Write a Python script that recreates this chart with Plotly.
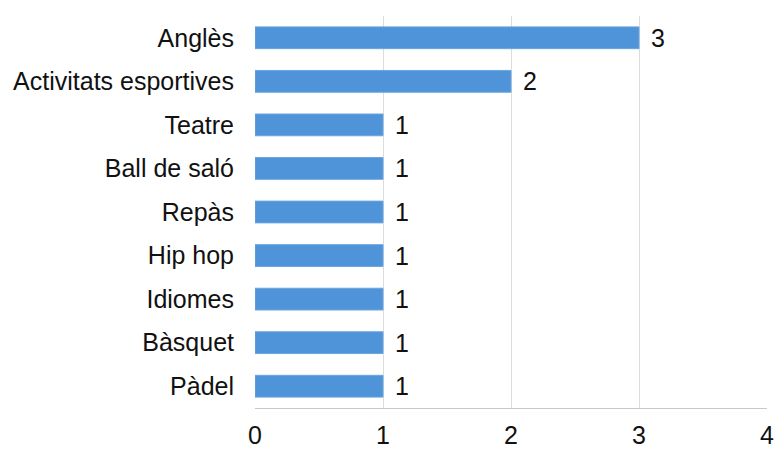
import plotly.graph_objects as go

categories = ["Anglès", "Activitats esportives", "Teatre", "Ball de saló", "Repàs",
              "Hip hop", "Idiomes", "Bàsquet", "Pàdel"]
values = [3, 2, 1, 1, 1, 1, 1, 1, 1]
x_ticks = [0, 1, 2, 3, 4]

FONT = "Liberation Sans, Arial"
FS = 25

fig = go.Figure(go.Bar(
    y=categories, x=values, orientation="h",
    marker=dict(color="#4f93d8", line=dict(color="#6aa6e0", width=1)),
    width=0.5,
))

for c, v in zip(categories, values):
    fig.add_annotation(x=v, y=c, text=str(v), showarrow=False, xanchor="left",
                       yanchor="middle", xshift=10,
                       font=dict(size=FS, color="#111111", family=FONT))

fig.update_layout(
    width=774, height=449,
    margin=dict(l=255, r=7, t=16, b=41),
    plot_bgcolor="white", paper_bgcolor="white",
    font=dict(family=FONT, size=FS, color="#111111"),
    showlegend=False,
)
fig.update_xaxes(range=[0, 4], tickvals=x_ticks, showgrid=True, gridcolor="#dcdcdc",
                 gridwidth=1, zeroline=False, showline=True, linecolor="#c8c8c8",
                 ticks="", ticklabelstandoff=5, tickfont=dict(size=FS),
                 ticklabeloverflow="allow", automargin=False)
fig.update_yaxes(categoryorder="array", categoryarray=categories[::-1],
                 showgrid=False, ticks="", ticklabelstandoff=20,
                 tickfont=dict(size=FS), showline=False, automargin=False)

fig.write_html("out.html", config={"displayModeBar": False},
               post_script="document.body.style.margin='0';")
